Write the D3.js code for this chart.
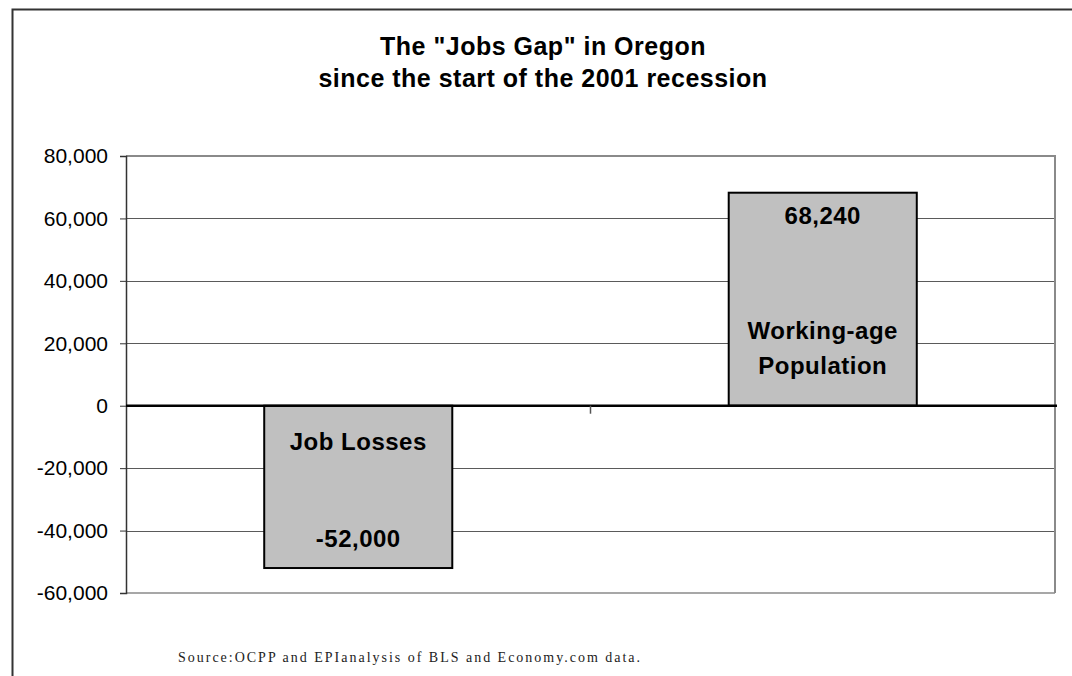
<!DOCTYPE html>
<html><head><meta charset="utf-8">
<script src="https://cdn.jsdelivr.net/npm/d3@7"></script>
<style>body{margin:0;background:#fff;} svg{display:block;}</style>
</head><body>
<svg id="c" width="1072" height="676"></svg>
<script>
const categories = ["Job Losses", "Working-age Population"];
const values = [-52000, 68240];
const valueLabels = ["-52,000", "68,240"];
const yTicks = [-60000, -40000, -20000, 0, 20000, 40000, 60000, 80000];
const titleLines = ['The "Jobs Gap" in Oregon', 'since the start of the 2001 recession'];
const sourceText = "Source:OCPP and EPIanalysis of BLS and Economy.com data.";

const svg = d3.select("#c");
const L = 126, R = 1055, T = 156, B = 593;
const sans = "Liberation Sans, Arial, sans-serif";

// outer chart border
svg.append("rect").attr("x", 12.5).attr("y", 9.5).attr("width", 1200).attr("height", 800)
  .attr("fill", "#fff").attr("stroke", "#333").attr("stroke-width", 2);

const y = d3.scaleLinear().domain([-60000, 80000]).range([B, T]);
const x = d3.scaleBand().domain(categories).range([L, R]).padding(0);

// gridlines
svg.append("g").selectAll("line").data(yTicks.filter(d => d !== 0 && d !== 80000 && d !== -60000)).join("line")
  .attr("x1", L).attr("x2", R).attr("y1", d => Math.round(y(d)) + 0.5).attr("y2", d => Math.round(y(d)) + 0.5)
  .attr("stroke", "#5a5a5a").attr("stroke-width", 1);

// plot border top/right
svg.append("path").attr("d", `M${L},${T} H${R} V${B}`).attr("fill", "none")
  .attr("stroke", "#8a8a8a").attr("stroke-width", 2);
// bottom gridline
svg.append("line").attr("x1", L).attr("x2", R).attr("y1", B).attr("y2", B)
  .attr("stroke", "#8a8a8a").attr("stroke-width", 1.5);

// y axis
const yAxis = d3.axisLeft(y).tickValues(yTicks).tickSize(6).tickPadding(12)
  .tickFormat(d => d3.format(",")(d).replace("−", "-"));
const ga = svg.append("g").attr("transform", `translate(${L},0)`).call(yAxis);
ga.select(".domain").attr("stroke", "#333").attr("stroke-width", 1.5);
ga.selectAll(".tick line").attr("stroke", "#333");
ga.selectAll("text").attr("font-family", sans).attr("font-size", 21).attr("fill", "#000");

// bars
const bw = x.bandwidth() / 2.47;
svg.append("g").selectAll("rect").data(values).join("rect")
  .attr("x", (d, i) => x(categories[i]) + (x.bandwidth() - bw) / 2)
  .attr("width", bw)
  .attr("y", d => y(Math.max(0, d)))
  .attr("height", d => Math.abs(y(d) - y(0)))
  .attr("fill", "#c0c0c0").attr("stroke", "#000").attr("stroke-width", 2);

// zero line
svg.append("line").attr("x1", L).attr("x2", R + 2).attr("y1", y(0)).attr("y2", y(0))
  .attr("stroke", "#000").attr("stroke-width", 2.5);
// category separator tick
svg.append("line").attr("x1", x(categories[1])).attr("x2", x(categories[1]))
  .attr("y1", y(0)).attr("y2", y(0) + 8).attr("stroke", "#555").attr("stroke-width", 1.5);

// labels
const cx = i => x(categories[i]) + x.bandwidth() / 2;
const labels = [
  {t: categories[0], x: cx(0), y: 450},
  {t: valueLabels[0], x: cx(0), y: 547},
  {t: valueLabels[1], x: cx(1), y: 224},
  {t: "Working-age", x: cx(1), y: 339},
  {t: "Population", x: cx(1), y: 374}
];
svg.append("g").selectAll("text").data(labels).join("text")
  .attr("x", d => d.x).attr("y", d => d.y).text(d => d.t)
  .attr("text-anchor", "middle").attr("font-family", sans).attr("font-weight", "bold")
  .attr("font-size", 24).attr("letter-spacing", 0.5).attr("fill", "#000");

// title
svg.append("g").selectAll("text").data(titleLines).join("text")
  .attr("x", 543).attr("y", (d, i) => 55 + i * 32).attr("text-anchor", "middle")
  .attr("font-family", sans).attr("font-weight", "bold").attr("font-size", 25)
  .attr("letter-spacing", 0.5).text(d => d);

// source
svg.append("text").attr("x", 178).attr("y", 662).attr("font-family", "Liberation Serif, Times New Roman, serif")
  .attr("font-size", 14).attr("textLength", 462).attr("lengthAdjust", "spacing").attr("fill", "#222")
  .text(sourceText);
</script>
</body></html>
